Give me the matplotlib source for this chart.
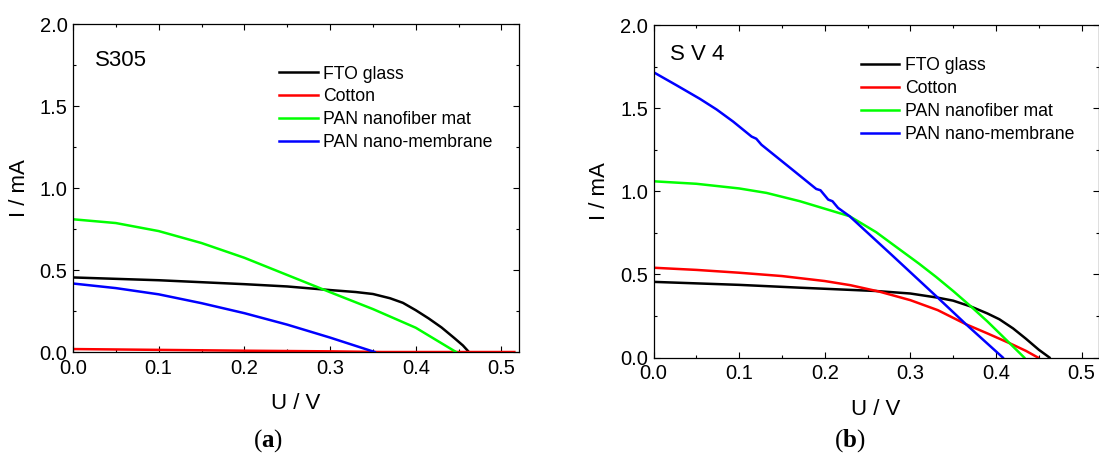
import matplotlib.pyplot as plt
from matplotlib.ticker import MultipleLocator, FormatStrFormatter

plt.rcParams['font.family'] = ['Liberation Sans', 'DejaVu Sans']
plt.rcParams['mathtext.fontset'] = 'custom'
plt.rcParams['mathtext.rm'] = 'Liberation Serif'
plt.rcParams['mathtext.bf'] = 'Liberation Serif:bold'

labels = ["FTO glass", "Cotton", "PAN nanofiber mat", "PAN nano-membrane"]
colors = ["black", "#ff0000", "#00ff00", "#0000ff"]

# (a) S305
a_fto_u = [0, 0.1, 0.2, 0.25, 0.3, 0.33, 0.35, 0.37, 0.385, 0.4, 0.415, 0.43, 0.445, 0.455, 0.462]
a_fto_i = [0.455, 0.438, 0.414, 0.400, 0.378, 0.366, 0.354, 0.328, 0.300, 0.255, 0.205, 0.150, 0.085, 0.040, 0.0]
a_cot_u = [0, 0.1, 0.2, 0.3, 0.36, 0.515]
a_cot_i = [0.018, 0.013, 0.008, 0.004, 0.0, 0.0]
a_mat_u = [0, 0.05, 0.1, 0.15, 0.2, 0.25, 0.3, 0.35, 0.4, 0.447]
a_mat_i = [0.81, 0.787, 0.738, 0.665, 0.575, 0.47, 0.365, 0.262, 0.148, 0.0]
a_mem_u = [0, 0.05, 0.1, 0.15, 0.2, 0.25, 0.3, 0.352]
a_mem_i = [0.418, 0.39, 0.352, 0.298, 0.237, 0.167, 0.088, 0.0]

# (b) S V 4
b_fto_u = [0, 0.1, 0.171, 0.26, 0.3, 0.332, 0.35, 0.371, 0.39, 0.404, 0.42, 0.435, 0.45, 0.4625]
b_fto_i = [0.455, 0.437, 0.42, 0.40, 0.385, 0.36, 0.342, 0.306, 0.265, 0.23, 0.175, 0.113, 0.047, 0.0]
b_cot_u = [0, 0.05, 0.1, 0.15, 0.2, 0.23, 0.264, 0.3, 0.332, 0.365, 0.39, 0.416, 0.435, 0.449]
b_cot_i = [0.54, 0.527, 0.51, 0.49, 0.46, 0.435, 0.396, 0.345, 0.285, 0.20, 0.145, 0.086, 0.04, 0.0]
b_mat_u = [0, 0.05, 0.1, 0.132, 0.171, 0.2, 0.229, 0.26, 0.2875, 0.31, 0.33, 0.35, 0.371, 0.39, 0.416, 0.433]
b_mat_i = [1.06, 1.045, 1.017, 0.99, 0.94, 0.895, 0.85, 0.754, 0.65, 0.565, 0.485, 0.40, 0.306, 0.217, 0.086, 0.0]
b_mem_u = [0, 0.027, 0.0541, 0.0736, 0.093, 0.1145, 0.120, 0.126, 0.16, 0.19, 0.195, 0.204, 0.209,
           0.2155, 0.229, 0.2797, 0.332, 0.365, 0.408]
b_mem_i = [1.716, 1.637, 1.556, 1.492, 1.419, 1.329, 1.316, 1.28, 1.139, 1.014, 1.006, 0.95, 0.94,
           0.90, 0.85, 0.61, 0.36, 0.20, 0.0]

fig = plt.figure(figsize=(10.99, 4.59), dpi=100)
ax1 = fig.add_axes([0.0664, 0.2331, 0.4055, 0.7140])
ax2 = fig.add_axes([0.5947, 0.2211, 0.4050, 0.7244])

panels = [
    (ax1, [(a_fto_u, a_fto_i), (a_cot_u, a_cot_i), (a_mat_u, a_mat_i), (a_mem_u, a_mem_i)],
     "S305", (0.049, 0.888), (0.462, 0.874)),
    (ax2, [(b_fto_u, b_fto_i), (b_cot_u, b_cot_i), (b_mat_u, b_mat_i), (b_mem_u, b_mem_i)],
     "S V 4", (0.037, 0.91), (0.465, 0.903)),
]

for ax, series, name, name_pos, leg_pos in panels:
    for (u, i), lab, c in zip(series, labels, colors):
        ax.plot(u, i, color=c, lw=1.8, label=lab)
    ax.set_xlim(0, 0.52)
    ax.set_ylim(0, 2.0)
    ax.xaxis.set_major_locator(MultipleLocator(0.1))
    ax.xaxis.set_minor_locator(MultipleLocator(0.05))
    ax.yaxis.set_major_locator(MultipleLocator(0.5))
    ax.yaxis.set_minor_locator(MultipleLocator(0.25))
    ax.xaxis.set_major_formatter(FormatStrFormatter('%.1f'))
    ax.yaxis.set_major_formatter(FormatStrFormatter('%.1f'))
    ax.tick_params(which='both', direction='in', top=True, right=True, width=0.8)
    ax.tick_params(which='major', length=4.5, labelsize=14.5)
    ax.tick_params(which='minor', length=2.5)
    ax.tick_params(axis='x', pad=5)
    ax.tick_params(axis='y', pad=4)
    for s in ax.spines.values():
        s.set_linewidth(0.9)
    ax.set_xlabel("U / V", fontsize=16, labelpad=11)
    ax.set_ylabel("I / mA", fontsize=16, labelpad=7)
    ax.text(name_pos[0], name_pos[1], name, transform=ax.transAxes, fontsize=16, va='center')
    ax.legend(loc='upper left', bbox_to_anchor=leg_pos, frameon=False, borderpad=0,
              borderaxespad=0, handlelength=2.2, handletextpad=0.3, labelspacing=0.33,
              fontsize=12.7)

fig.text(268 / 1099, 1 - 441 / 459, r'$\mathrm{(}\mathbf{a}\mathrm{)}$', fontsize=18,
         ha='center', va='center')
fig.text(850 / 1099, 1 - 441 / 459, r'$\mathrm{(}\mathbf{b}\mathrm{)}$', fontsize=18,
         ha='center', va='center')

fig.savefig("out.png", dpi=100)
